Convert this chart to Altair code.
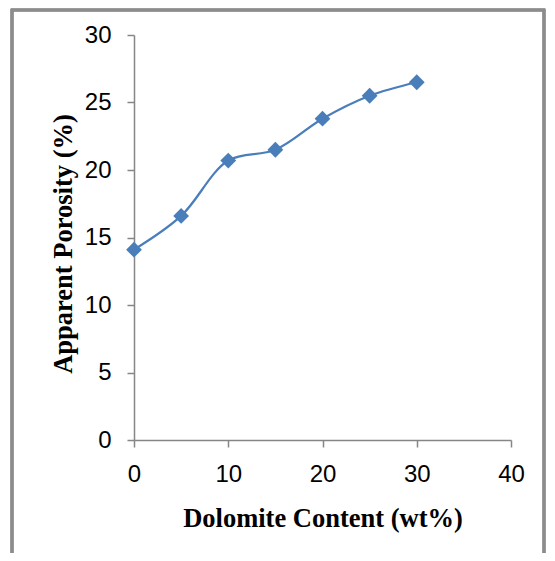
import altair as alt
import pandas as pd

dolomite = [0, 5, 10, 15, 20, 25, 30]
porosity = [14.1, 16.6, 20.7, 21.5, 23.8, 25.5, 26.5]

df = pd.DataFrame({"x": dolomite, "y": porosity})

W, H = 377, 405
BLUE = "#4A7EBB"
GRAY = "#868686"

x_enc = alt.X("x:Q", scale=alt.Scale(domain=[0, 40]),
              axis=alt.Axis(values=[0, 10, 20, 30, 40], title="Dolomite Content (wt%)",
                            labelFlush=False,
                            titleX=W / 2, titleY=78, titleBaseline="middle", titleAlign="center"))
y_enc = alt.Y("y:Q", scale=alt.Scale(domain=[0, 30]),
              axis=alt.Axis(values=[0, 5, 10, 15, 20, 25, 30], title="Apparent Porosity (%)",
                            titleX=-71, titleY=H / 2 + 6, titleBaseline="middle", titleAlign="center",
                            titleAngle=-90))

line = alt.Chart(df).mark_line(interpolate="catmull-rom", color=BLUE, strokeWidth=2.25).encode(
    x=x_enc, y=y_enc)
pts = alt.Chart(df).mark_point(shape="diamond", filled=True, size=250, color=BLUE, opacity=1).encode(
    x="x:Q", y="y:Q")

frame = alt.Chart(df).mark_rect(fill=None, stroke="#8c8c8c", strokeWidth=2.5).encode(
    x=alt.value(-122), x2=alt.value(410), y=alt.value(-25), y2=alt.value(H + 140))

chart = alt.layer(frame, line, pts).properties(
    width=W, height=H,
    autosize=alt.AutoSizeParams(type="none"),
    padding={"left": 126, "top": 27, "right": 36, "bottom": 113},
).configure_view(stroke=None).configure_axis(
    grid=False,
    domainColor=GRAY, domainWidth=1.5,
    tickColor=GRAY, tickWidth=1.5, tickSize=7,
    labelFont="Liberation Sans Narrow, Liberation Sans", labelFontSize=24, labelColor="#000000",
    titleFont="Liberation Serif", titleFontSize=26.5, titleFontWeight="bold", titleColor="#000000",
).configure_axisX(labelPadding=15).configure_axisY(labelPadding=16)

chart.save("out.html", embed_options={"renderer": "svg", "actions": False})
